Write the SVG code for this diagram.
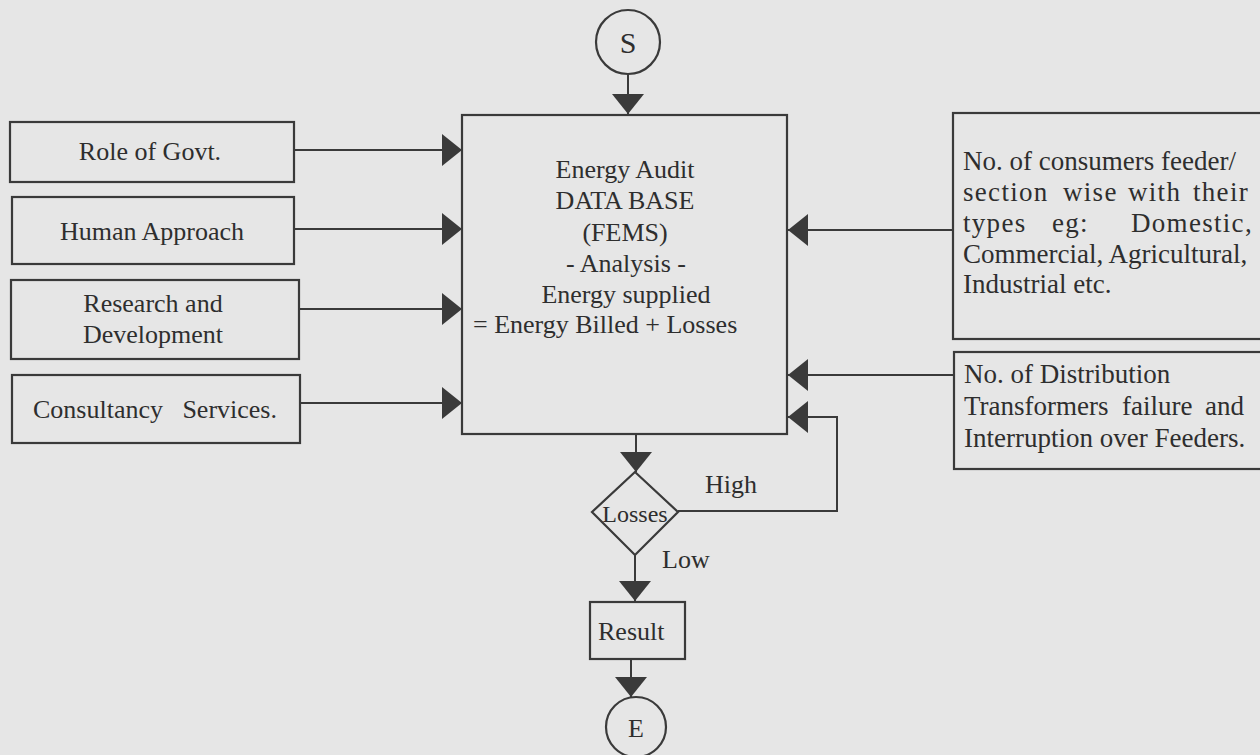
<svg xmlns="http://www.w3.org/2000/svg" width="1260" height="755" viewBox="0 0 1260 755">
<style>
text{font-family:"Liberation Serif","Times New Roman",serif;font-size:26px;fill:#2e2e2e}
.r{font-size:27px}
.sp{letter-spacing:1.3px}
.box{fill:none;stroke:#3a3a3a;stroke-width:2.2}
.ln{fill:none;stroke:#3a3a3a;stroke-width:2}
.mid{text-anchor:middle}
</style>
<defs>
<marker id="ah" markerUnits="userSpaceOnUse" markerWidth="20" markerHeight="32" viewBox="0 0 20 32" refX="20" refY="16" orient="auto">
<path d="M0,0 L20,16 L0,32 Z" fill="#3a3a3a"/>
</marker>
</defs>
<rect width="1260" height="755" fill="#e6e6e6"/>

<g id="connectors">
<line class="ln" x1="628" y1="74" x2="628" y2="114" marker-end="url(#ah)"/>
<line class="ln" x1="294" y1="150" x2="462" y2="150" marker-end="url(#ah)"/>
<line class="ln" x1="294" y1="229" x2="462" y2="229" marker-end="url(#ah)"/>
<line class="ln" x1="299" y1="309" x2="462" y2="309" marker-end="url(#ah)"/>
<line class="ln" x1="300" y1="403" x2="462" y2="403" marker-end="url(#ah)"/>
<line class="ln" x1="953" y1="230" x2="788" y2="230" marker-end="url(#ah)"/>
<line class="ln" x1="953" y1="375" x2="788" y2="375" marker-end="url(#ah)"/>
<polyline class="ln" points="678,511 837,511 837,417 788,417" marker-end="url(#ah)"/>
<line class="ln" x1="636" y1="434" x2="636" y2="472" marker-end="url(#ah)"/>
<line class="ln" x1="635" y1="555" x2="635" y2="601" marker-end="url(#ah)"/>
<line class="ln" x1="631" y1="659" x2="631" y2="697" marker-end="url(#ah)"/>
<text x="705" y="493">High</text>
<text x="662" y="568">Low</text>
</g>

<g id="start">
<circle class="box" cx="628" cy="42" r="32"/>
<text class="mid" x="628" y="53" style="font-size:30px">S</text>
</g>

<g id="database">
<rect class="box" x="462" y="115" width="325" height="319"/>
<text class="mid" x="625" y="178">Energy Audit</text>
<text class="mid" x="625" y="209">DATA BASE</text>
<text class="mid" x="625" y="241">(FEMS)</text>
<text class="mid" x="626" y="272">- Analysis -</text>
<text class="mid" x="626" y="303">Energy supplied</text>
<text x="473" y="333">= Energy Billed + Losses</text>
</g>

<g id="govt">
<rect class="box" x="10" y="122" width="284" height="60"/>
<text class="mid" x="150" y="160">Role of Govt.</text>
</g>
<g id="human">
<rect class="box" x="12" y="197" width="282" height="67"/>
<text class="mid" x="152" y="240">Human Approach</text>
</g>
<g id="research">
<rect class="box" x="11" y="280" width="288" height="79"/>
<text class="mid" x="153" y="312">Research and</text>
<text class="mid" x="153" y="343">Development</text>
</g>
<g id="consultancy">
<rect class="box" x="12" y="375" width="288" height="68"/>
<text x="33" y="418">Consultancy</text>
<text x="277" y="418" text-anchor="end">Services.</text>
</g>

<g id="consumers">
<rect class="box" x="953" y="113" width="312" height="226"/>
<text class="r" x="963" y="170">No. of consumers feeder/</text>
<text class="r sp" y="201"><tspan x="963">section</tspan><tspan x="1063">wise</tspan><tspan x="1128">with</tspan><tspan x="1193">their</tspan></text>
<text class="r sp" y="232"><tspan x="963">types</tspan><tspan x="1052">eg:</tspan><tspan x="1131">Domestic,</tspan></text>
<text class="r" x="963" y="263">Commercial, Agricultural,</text>
<text class="r" x="963" y="293">Industrial etc.</text>
</g>

<g id="transformers">
<rect class="box" x="954" y="352" width="311" height="117"/>
<text class="r" x="964" y="383">No. of Distribution</text>
<text class="r" y="415"><tspan x="964">Transformers</tspan><tspan x="1122">failure</tspan><tspan x="1205">and</tspan></text>
<text class="r" x="964" y="447">Interruption over Feeders.</text>
</g>

<g id="losses">
<polygon class="box" points="635,472 678,512 635,555 592,512"/>
<text class="mid" x="635" y="522" style="font-size:24px">Losses</text>
</g>

<g id="result">
<rect class="box" x="590" y="602" width="95" height="57"/>
<text x="598" y="640">Result</text>
</g>

<g id="end">
<circle class="box" cx="636" cy="727" r="30"/>
<text class="mid" x="636" y="737">E</text>
</g>
</svg>
